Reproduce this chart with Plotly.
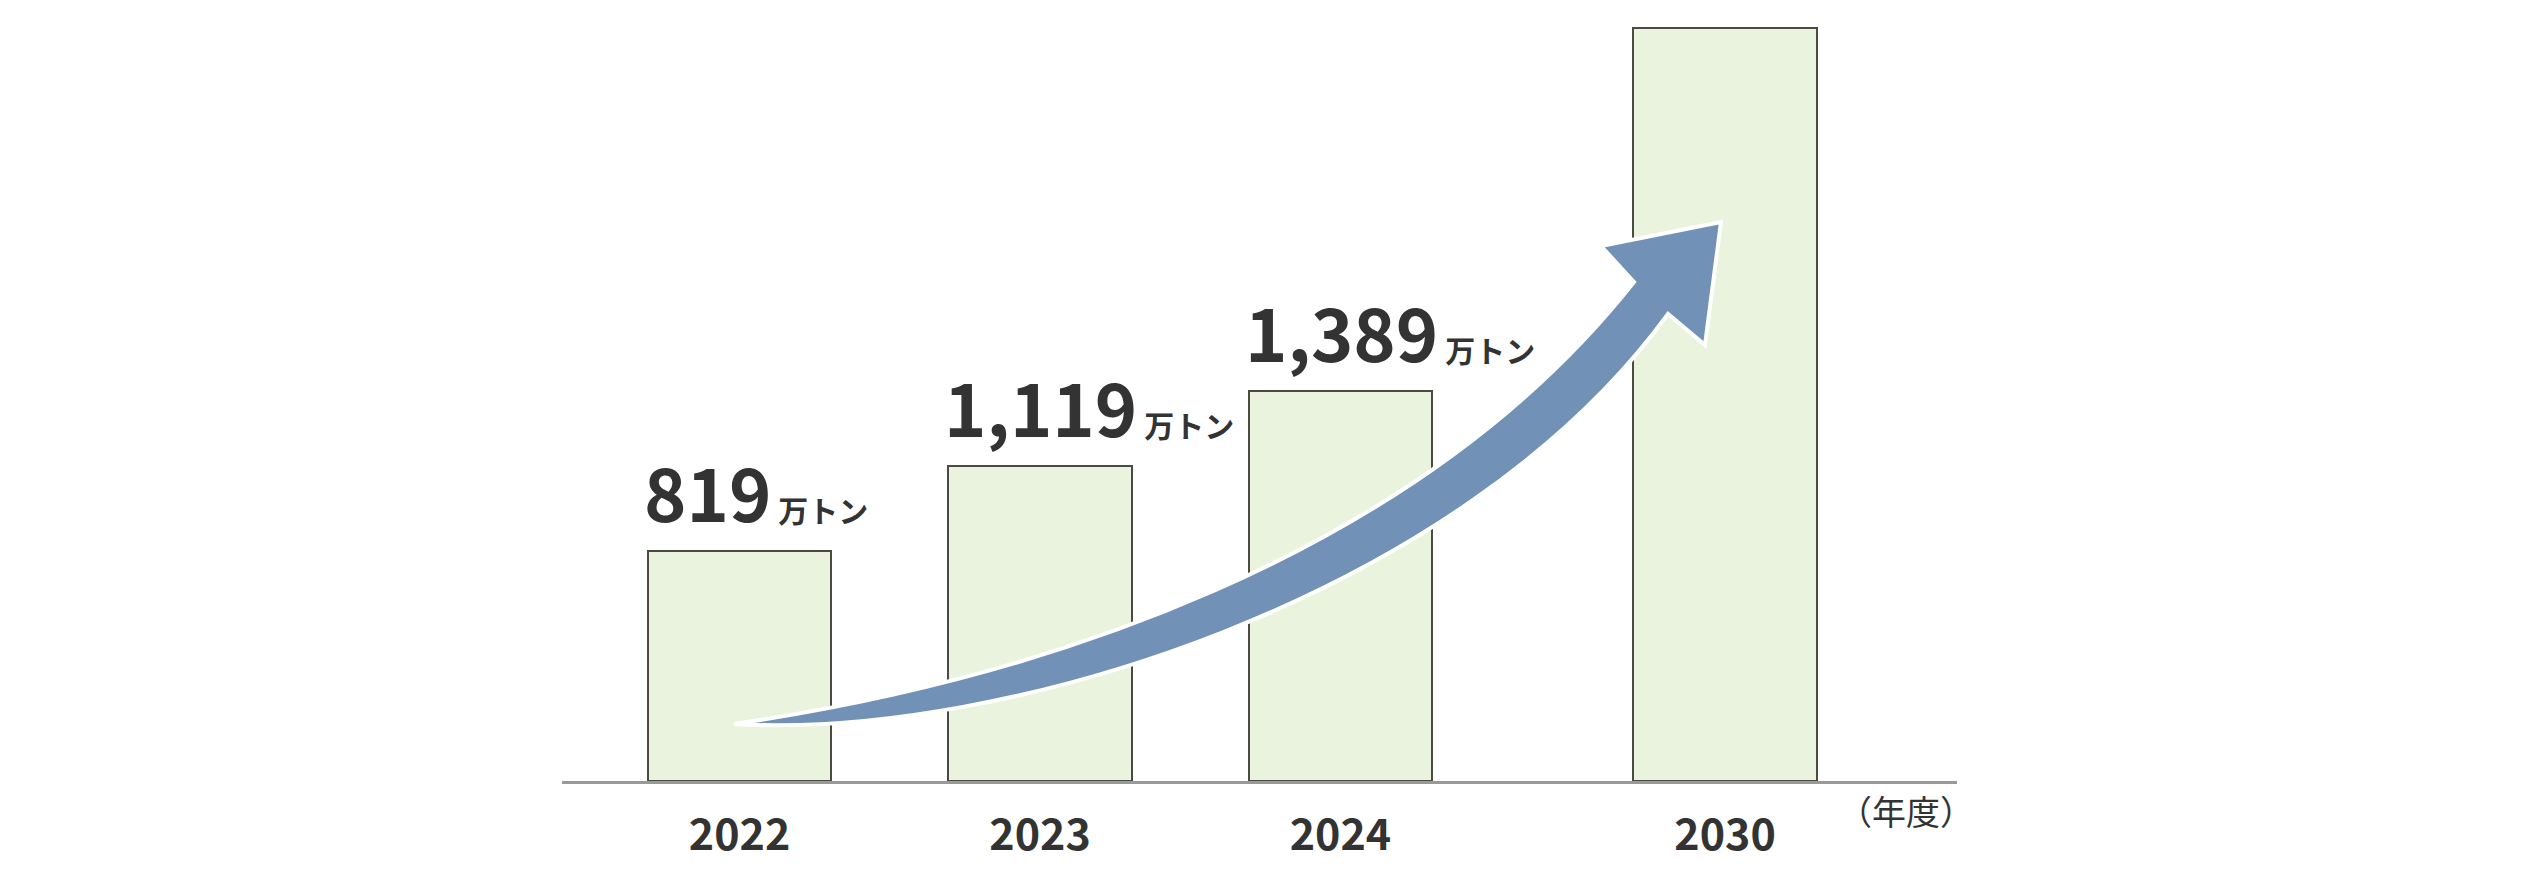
import plotly.graph_objects as go

# data (万トン)
years = ["2022", "2023", "2024", "2030"]
values = [819, 1119, 1389, 2680]
value_labels = ["819", "1,119", "1,389", None]  # 2030 has no label
unit = "万トン"
axis_note = "（年度）"

# layout: 2030 sits a little further out than a regular step
x_pos = [0, 1, 2, 3.28]
bar_w = 0.61

# page is 2522x869 but the html body has an 8px default margin
OFF = 8
W, H = 2522 - 2 * OFF, 869 - 2 * OFF
# plot area in page pixels
PL, PR, PT, PB = 562, 1957, 8, 781
x_range = [-0.591, 4.052]
y_range = [0, 2750]

FONT = "Noto Sans CJK JP"
TXT = "#333333"


def px_to_data(px, py):
    # convert page pixels to data coords (used for the decorative arrow only)
    x = x_range[0] + (px - PL) / (PR - PL) * (x_range[1] - x_range[0])
    y = y_range[0] + (PB - py) / (PB - PT) * (y_range[1] - y_range[0])
    return x, y


def pt(px, py):
    x, y = px_to_data(px, py)
    return f"{x:.4f},{y:.2f}"


fig = go.Figure()

fig.add_trace(
    go.Bar(
        x=x_pos,
        y=values,
        width=bar_w,
        marker=dict(color="#EAF3DE", line=dict(color="#4b4b42", width=2)),
        showlegend=False,
        hoverinfo="skip",
    )
)

# value labels, left aligned to the bar edge
for xp, v, lab in zip(x_pos, values, value_labels):
    if lab is None:
        continue
    fig.add_annotation(
        x=xp - bar_w / 2,
        y=v,
        xref="x",
        yref="y",
        text=f"{lab}<span style='font-size:30px'> {unit}</span>",
        showarrow=False,
        xanchor="left",
        yanchor="bottom",
        xshift=-6,
        yshift=6,
        font=dict(size=72, color=TXT, family=FONT, weight=600),
    )

# curved growth arrow (decoration), drawn in page pixels then mapped to data
arrow_path = (
    "M " + pt(734, 724)
    + " C " + pt(1034, 680) + " " + pt(1414, 560) + " " + pt(1634, 282)
    + " L " + pt(1601, 246)
    + " L " + pt(1721, 222)
    + " L " + pt(1705, 345)
    + " L " + pt(1668, 314)
    + " C " + pt(1460, 600) + " " + pt(1000, 740) + " " + pt(734, 724)
    + " Z"
)
fig.add_shape(
    type="path",
    path=arrow_path,
    xref="x",
    yref="y",
    fillcolor="#7291B6",
    line=dict(color="white", width=4),
    layer="above",
)

fig.add_annotation(
    x=(1906 - PL) / (PR - PL),
    y=0,
    xref="paper",
    yref="paper",
    xanchor="center",
    yanchor="top",
    yshift=-3,
    text=axis_note,
    showarrow=False,
    font=dict(size=34, color=TXT, family=FONT),
)

fig.update_layout(
    width=W,
    height=H,
    margin=dict(l=PL - OFF, r=W - (PR - OFF), t=PT - OFF, b=H - (PB - OFF), pad=0),
    plot_bgcolor="white",
    paper_bgcolor="white",
    bargap=0,
    xaxis=dict(
        range=x_range,
        tickvals=x_pos,
        ticktext=years,
        showgrid=False,
        zeroline=False,
        showline=True,
        linecolor="#999999",
        linewidth=3,
        ticks="",
        ticklabelstandoff=14,
        tickfont=dict(size=43, color=TXT, family=FONT, weight=600),
        fixedrange=True,
    ),
    yaxis=dict(
        range=y_range,
        showgrid=False,
        zeroline=False,
        showline=False,
        showticklabels=False,
        fixedrange=True,
    ),
    font=dict(family=FONT, color=TXT),
)

fig.write_html("out.html")
